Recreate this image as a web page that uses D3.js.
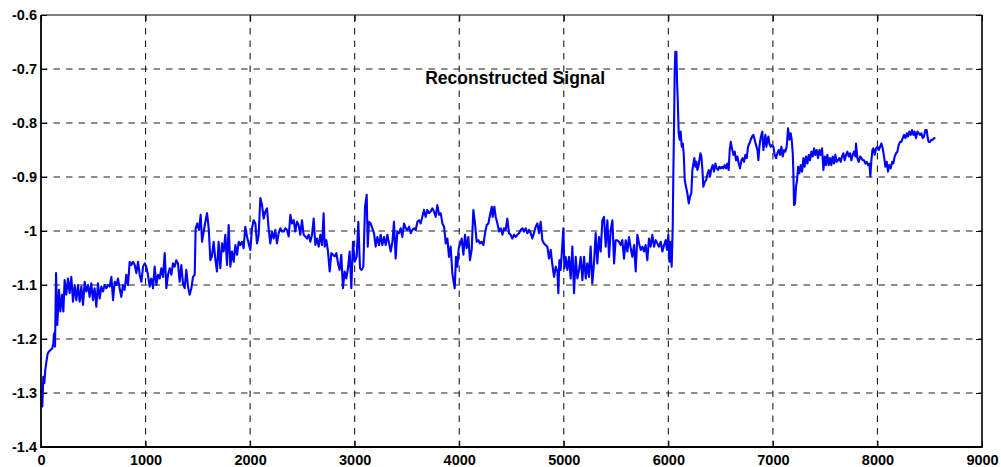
<!DOCTYPE html>
<html>
<head>
<meta charset="utf-8">
<script src="https://cdn.jsdelivr.net/npm/d3@7"></script>
<style>
  html, body { margin: 0; padding: 0; background: #fff; }
  svg { display: block; }
  text { font-family: "Liberation Sans", Arial, Helvetica, sans-serif; font-weight: bold; fill: #000; }
</style>
</head>
<body>
<svg id="chart" width="1001" height="467"></svg>
<script>
// Reconstructed signal: [sample index, amplitude] pairs, split by sample range.
const signal0to1000 = [
  [0,-1.294],[13,-1.325],[22,-1.270],[32,-1.282],[41,-1.257],[54,-1.239],[64,-1.227],[77,-1.223],
  [93,-1.220],[108,-1.217],[118,-1.208],[124,-1.190],[134,-1.214],[144,-1.078],[156,-1.174],
  [172,-1.109],[185,-1.149],[201,-1.118],[214,-1.149],[226,-1.091],[242,-1.118],[258,-1.088],
  [274,-1.115],[290,-1.085],[306,-1.131],[322,-1.100],[338,-1.128],[354,-1.100],[370,-1.131],
  [386,-1.103],[402,-1.137],[418,-1.094],[434,-1.112],[450,-1.100],[465,-1.122],[481,-1.097],
  [497,-1.128],[513,-1.106],[529,-1.140],[545,-1.097],[561,-1.125],[577,-1.103],[593,-1.112],
  [609,-1.100],[625,-1.106],[641,-1.100],[657,-1.103],[673,-1.085],[689,-1.128],[705,-1.094],
  [721,-1.100],[736,-1.088],[752,-1.106],[768,-1.122],[784,-1.100],[800,-1.109],[816,-1.081],
  [832,-1.100],[848,-1.057],[864,-1.063],[880,-1.057],[896,-1.063],[912,-1.078],[928,-1.057],
  [944,-1.081],[960,-1.094],[976,-1.066],[992,-1.060]
];

const signal1000to2000 = [
  [1007,-1.066],[1023,-1.081],[1039,-1.103],[1055,-1.088],[1071,-1.106],[1087,-1.066],[1103,-1.100],
  [1119,-1.081],[1135,-1.088],[1151,-1.069],[1167,-1.085],[1183,-1.041],[1199,-1.106],[1215,-1.081],
  [1231,-1.069],[1247,-1.081],[1262,-1.060],[1278,-1.066],[1294,-1.054],[1310,-1.060],[1326,-1.094],
  [1342,-1.063],[1358,-1.097],[1374,-1.106],[1390,-1.072],[1406,-1.103],[1422,-1.118],[1438,-1.106],
  [1454,-1.085],[1470,-1.081],[1479,-0.995],[1495,-0.986],[1511,-0.998],[1527,-0.970],[1540,-1.020],
  [1556,-1.001],[1572,-0.983],[1588,-0.967],[1604,-0.995],[1620,-1.054],[1635,-1.047],[1651,-1.020],
  [1667,-1.051],[1683,-1.075],[1699,-1.020],[1715,-1.069],[1731,-1.023],[1747,-1.038],[1763,-1.007],
  [1779,-1.063],[1795,-0.989],[1811,-1.066],[1827,-1.038],[1843,-1.057],[1859,-1.026],[1875,-1.044],
  [1891,-1.020],[1906,-1.026],[1922,-1.020],[1938,-1.032],[1954,-0.992],[1970,-1.010],[1986,-1.023]
];

const signal2000to3000 = [
  [2002,-1.035],[2018,-0.995],[2034,-0.980],[2050,-0.986],[2066,-1.023],[2082,-1.007],[2098,-0.939],
  [2114,-0.952],[2130,-0.977],[2146,-0.964],[2162,-0.958],[2177,-0.995],[2193,-1.023],[2209,-1.001],
  [2225,-1.014],[2241,-0.998],[2257,-1.023],[2273,-1.004],[2289,-0.995],[2305,-1.001],[2321,-1.001],
  [2337,-0.995],[2353,-0.998],[2369,-1.010],[2385,-0.970],[2401,-0.986],[2417,-0.980],[2432,-1.001],
  [2448,-0.983],[2464,-0.989],[2480,-1.007],[2496,-0.980],[2512,-1.007],[2528,-1.010],[2544,-1.014],
  [2560,-1.007],[2576,-1.020],[2592,-1.007],[2608,-0.977],[2624,-1.026],[2640,-1.014],[2656,-1.029],
  [2672,-1.007],[2688,-1.026],[2703,-0.967],[2713,-1.029],[2729,-1.017],[2745,-1.038],[2761,-1.075],
  [2777,-1.041],[2793,-1.044],[2809,-1.047],[2825,-1.041],[2841,-1.060],[2856,-1.072],[2872,-1.044],
  [2888,-1.106],[2904,-1.075],[2920,-1.088],[2936,-1.069],[2952,-1.038],[2968,-1.106],[2984,-1.020],
  [3000,-1.057]
];

const signal3000to4500 = [
  [3019,-1.048],[3035,-0.983],[3051,-1.069],[3067,-1.072],[3083,-1.066],[3099,-0.955],[3115,-0.933],
  [3125,-1.029],[3137,-0.983],[3153,-0.986],[3169,-0.995],[3185,-1.004],[3201,-1.029],[3217,-1.011],
  [3233,-1.026],[3249,-1.007],[3265,-1.026],[3281,-1.011],[3297,-1.026],[3313,-1.007],[3329,-1.023],
  [3345,-1.038],[3361,-1.020],[3376,-0.983],[3392,-1.051],[3408,-1.001],[3424,-1.004],[3440,-0.995],
  [3456,-1.011],[3472,-0.986],[3488,-0.995],[3504,-0.998],[3520,-0.992],[3536,-1.004],[3552,-0.998],
  [3568,-0.995],[3584,-0.998],[3600,-0.983],[3616,-0.980],[3631,-0.986],[3647,-0.974],[3663,-0.961],
  [3679,-0.974],[3695,-0.961],[3711,-0.967],[3727,-0.964],[3743,-0.958],[3759,-0.964],[3775,-0.974],
  [3791,-0.952],[3807,-0.970],[3823,-0.967],[3839,-0.986],[3855,-0.992],[3871,-1.023],[3887,-1.014],
  [3902,-1.048],[3918,-1.029],[3934,-1.078],[3944,-1.091],[3957,-1.106],[3969,-1.048],[3982,-1.066],
  [3995,-1.032],[4011,-1.023],[4024,-1.014],[4040,-1.044],[4055,-1.007],[4071,-1.032],[4087,-1.011],
  [4103,-1.054],[4119,-1.035],[4135,-0.961],[4151,-0.986],[4167,-1.020],[4183,-1.017],[4199,-1.023],
  [4215,-1.020],[4231,-1.026],[4247,-1.004],[4263,-0.989],[4279,-0.986],[4295,-0.970],[4311,-0.955],
  [4320,-0.974],[4336,-0.955],[4349,-0.974],[4365,-0.986],[4381,-1.001],[4397,-0.995],[4413,-1.007],
  [4428,-0.995],[4444,-0.998],[4460,-0.977],[4476,-1.004],[4492,-1.007]
];

const signal4500to6050 = [
  [4508,-1.014],[4524,-1.007],[4540,-1.011],[4556,-1.007],[4572,-1.004],[4588,-0.998],[4604,-0.995],
  [4620,-1.001],[4636,-0.995],[4652,-1.004],[4668,-0.998],[4684,-1.004],[4699,-1.014],[4715,-1.004],
  [4731,-0.992],[4747,-0.986],[4763,-1.004],[4779,-0.983],[4795,-1.017],[4811,-1.023],[4827,-1.026],
  [4843,-1.029],[4859,-1.051],[4875,-1.035],[4891,-1.063],[4907,-1.085],[4923,-1.066],[4939,-1.075],
  [4948,-1.115],[4958,-1.054],[4970,-1.072],[4983,-1.035],[4996,-0.995],[5006,-1.069],[5018,-1.048],
  [5034,-1.072],[5050,-1.048],[5066,-1.088],[5082,-1.029],[5098,-1.115],[5114,-1.048],[5130,-1.088],
  [5146,-1.072],[5162,-1.048],[5178,-1.091],[5194,-1.048],[5210,-1.088],[5225,-1.060],[5241,-1.085],
  [5257,-1.029],[5273,-1.097],[5289,-1.060],[5305,-1.004],[5321,-1.060],[5337,-1.011],[5353,-1.038],
  [5369,-0.980],[5385,-0.974],[5401,-1.029],[5417,-0.980],[5433,-1.048],[5449,-0.998],[5465,-0.980],
  [5481,-1.060],[5496,-1.017],[5512,-1.017],[5528,-1.020],[5544,-1.026],[5560,-1.017],[5576,-1.051],
  [5592,-1.017],[5608,-1.038],[5624,-1.011],[5640,-1.032],[5656,-1.048],[5672,-1.026],[5688,-1.075],
  [5704,-1.007],[5720,-1.023],[5736,-1.035],[5752,-1.029],[5767,-1.038],[5783,-1.026],[5799,-1.054],
  [5815,-1.014],[5831,-1.029],[5847,-1.007],[5863,-1.029],[5879,-1.017],[5895,-1.023],[5911,-1.029],
  [5927,-1.020],[5943,-1.038],[5959,-1.026],[5975,-1.017],[5987,-1.035],[6000,-1.007],[6010,-1.057],
  [6019,-1.020],[6032,-1.066]
];

const signal6050to7200 = [
  [6042,-0.992],[6048,-0.893],[6055,-0.801],[6061,-0.702],[6067,-0.668],[6077,-0.668],[6083,-0.720],
  [6090,-0.757],[6099,-0.819],[6109,-0.831],[6118,-0.816],[6128,-0.844],[6138,-0.838],[6147,-0.856],
  [6157,-0.906],[6169,-0.918],[6182,-0.930],[6195,-0.949],[6208,-0.936],[6220,-0.930],[6230,-0.887],
  [6240,-0.875],[6249,-0.865],[6259,-0.881],[6268,-0.872],[6278,-0.887],[6287,-0.881],[6297,-0.869],
  [6307,-0.856],[6316,-0.862],[6326,-0.887],[6335,-0.918],[6348,-0.909],[6361,-0.906],[6373,-0.896],
  [6386,-0.887],[6399,-0.899],[6412,-0.884],[6424,-0.878],[6437,-0.890],[6450,-0.875],[6463,-0.884],
  [6475,-0.887],[6488,-0.881],[6501,-0.884],[6514,-0.881],[6526,-0.884],[6539,-0.878],[6552,-0.884],
  [6565,-0.875],[6577,-0.887],[6587,-0.850],[6597,-0.835],[6609,-0.847],[6622,-0.859],[6635,-0.853],
  [6648,-0.869],[6660,-0.862],[6673,-0.875],[6686,-0.884],[6699,-0.869],[6711,-0.865],[6724,-0.872],
  [6737,-0.859],[6750,-0.865],[6762,-0.844],[6775,-0.838],[6788,-0.831],[6801,-0.825],[6813,-0.822],
  [6826,-0.831],[6839,-0.841],[6852,-0.850],[6861,-0.869],[6871,-0.844],[6880,-0.831],[6890,-0.822],
  [6899,-0.816],[6909,-0.850],[6919,-0.835],[6928,-0.822],[6938,-0.844],[6947,-0.831],[6957,-0.825],
  [6966,-0.838],[6979,-0.844],[6992,-0.841],[7005,-0.844],[7017,-0.859],[7030,-0.865],[7043,-0.856],
  [7056,-0.850],[7068,-0.859],[7081,-0.844],[7094,-0.862],[7107,-0.850],[7119,-0.853],[7132,-0.844],
  [7145,-0.810],[7158,-0.831],[7170,-0.819],[7180,-0.831],[7190,-0.856],[7196,-0.893]
];

const signal7200to8560 = [
  [7202,-0.952],[7212,-0.949],[7221,-0.918],[7231,-0.906],[7241,-0.881],[7253,-0.893],[7266,-0.878],
  [7279,-0.890],[7292,-0.865],[7304,-0.881],[7317,-0.862],[7330,-0.875],[7343,-0.859],[7355,-0.869],
  [7368,-0.853],[7381,-0.862],[7394,-0.847],[7406,-0.859],[7419,-0.850],[7432,-0.865],[7445,-0.850],
  [7457,-0.859],[7470,-0.847],[7483,-0.887],[7496,-0.862],[7508,-0.878],[7521,-0.859],[7534,-0.878],
  [7547,-0.865],[7559,-0.878],[7572,-0.862],[7585,-0.875],[7598,-0.859],[7610,-0.872],[7623,-0.869],
  [7636,-0.865],[7649,-0.872],[7661,-0.862],[7674,-0.856],[7687,-0.869],[7700,-0.859],[7712,-0.853],
  [7725,-0.862],[7738,-0.856],[7751,-0.869],[7763,-0.859],[7776,-0.853],[7789,-0.862],[7795,-0.838],
  [7808,-0.865],[7821,-0.872],[7834,-0.862],[7846,-0.865],[7859,-0.869],[7872,-0.869],[7885,-0.875],
  [7897,-0.872],[7910,-0.878],[7923,-0.875],[7932,-0.899],[7942,-0.869],[7952,-0.850],[7961,-0.847],
  [7974,-0.859],[7987,-0.847],[7999,-0.844],[8012,-0.850],[8025,-0.844],[8038,-0.838],[8050,-0.847],
  [8063,-0.862],[8076,-0.881],[8089,-0.872],[8101,-0.890],[8114,-0.878],[8127,-0.884],[8140,-0.872],
  [8152,-0.875],[8165,-0.862],[8178,-0.856],[8191,-0.853],[8203,-0.841],[8216,-0.835],[8229,-0.835],
  [8242,-0.828],[8254,-0.822],[8267,-0.828],[8280,-0.819],[8293,-0.825],[8305,-0.816],[8318,-0.822],
  [8331,-0.813],[8344,-0.822],[8356,-0.816],[8369,-0.828],[8382,-0.816],[8395,-0.819],[8407,-0.822],
  [8420,-0.819],[8433,-0.828],[8446,-0.825],[8458,-0.813],[8471,-0.813],[8481,-0.828],[8490,-0.835],
  [8503,-0.835],[8516,-0.831],[8529,-0.831],[8541,-0.828],[8554,-0.828]
];

// Axis ticks and their labels
const xTicks = [0, 1000, 2000, 3000, 4000, 5000, 6000, 7000, 8000, 9000];
const xTickLabels = ["0", "1000", "2000", "3000", "4000", "5000", "6000", "7000", "8000", "9000"];
const yTicks = [-1.4, -1.3, -1.2, -1.1, -1.0, -0.9, -0.8, -0.7, -0.6];
const yTickLabels = ["-1.4", "-1.3", "-1.2", "-1.1", "-1", "-0.9", "-0.8", "-0.7", "-0.6"];

const titleText = "Reconstructed Signal";

// ---- layout ----
const plot = { left: 41, right: 982, top: 15, bottom: 447 };
const svg = d3.select("#chart");

const x = d3.scaleLinear().domain([0, 9000]).range([plot.left, plot.right]);
const y = d3.scaleLinear().domain([-1.4, -0.6]).range([plot.bottom, plot.top]);

const signal = [].concat(signal0to1000, signal1000to2000, signal2000to3000,
  signal3000to4500, signal4500to6050, signal6050to7200, signal7200to8560);

// dashed grid
const grid = svg.append("g").attr("class", "grid")
  .attr("stroke", "#1e1e1e").attr("stroke-width", 1.1).attr("stroke-dasharray", "6.5,6");

grid.selectAll("line.v").data(xTicks.slice(1, -1)).join("line")
  .attr("class", "v")
  .attr("x1", d => x(d)).attr("x2", d => x(d))
  .attr("y1", plot.bottom).attr("y2", plot.top);

grid.selectAll("line.h").data(yTicks.slice(1, -1)).join("line")
  .attr("class", "h")
  .attr("x1", plot.left).attr("x2", plot.right)
  .attr("y1", d => y(d)).attr("y2", d => y(d));

// axes with inward ticks on all sides
const tickLen = 6;
const axes = svg.append("g");

const axBottom = axes.append("g").attr("transform", `translate(0,${plot.bottom})`)
  .call(d3.axisBottom(x).tickValues(xTicks).tickSize(-tickLen).tickPadding(10)
    .tickFormat((d, i) => xTickLabels[i]));
const axTop = axes.append("g").attr("transform", `translate(0,${plot.top})`)
  .call(d3.axisTop(x).tickValues(xTicks).tickSize(-tickLen).tickFormat(""));
const axLeft = axes.append("g").attr("transform", `translate(${plot.left},0)`)
  .call(d3.axisLeft(y).tickValues(yTicks).tickSize(-tickLen).tickPadding(4)
    .tickFormat((d, i) => yTickLabels[i]));
const axRight = axes.append("g").attr("transform", `translate(${plot.right},0)`)
  .call(d3.axisRight(y).tickValues(yTicks).tickSize(-tickLen).tickFormat(""));

axes.selectAll(".domain").remove();
axes.selectAll(".tick line").attr("stroke", "#000").attr("stroke-width", 1);
axes.selectAll(".tick text")
  .style("font-family", "'Liberation Sans', Arial, Helvetica, sans-serif")
  .style("font-weight", "bold").style("font-size", "14.5px").attr("fill", "#000");
axBottom.selectAll(".tick text").attr("dy", null).attr("y", 18);

// signal trace
const line = d3.line().x(d => x(d[0])).y(d => y(d[1]));
svg.append("path")
  .datum(signal)
  .attr("d", line)
  .attr("fill", "none")
  .attr("stroke", "#0000ff")
  .attr("stroke-width", 2.1)
  .attr("stroke-linejoin", "round");

// box frame
const frame = svg.append("g").attr("stroke", "#000").attr("fill", "none");
frame.append("line").attr("x1", plot.left).attr("x2", plot.right)
  .attr("y1", plot.top).attr("y2", plot.top).attr("stroke-width", 1.2);
frame.append("line").attr("x1", plot.left).attr("x2", plot.right)
  .attr("y1", plot.bottom).attr("y2", plot.bottom).attr("stroke-width", 1.8);
frame.append("line").attr("x1", plot.left).attr("x2", plot.left)
  .attr("y1", plot.top).attr("y2", plot.bottom + 0.9).attr("stroke-width", 1.8);
frame.append("line").attr("x1", plot.right).attr("x2", plot.right)
  .attr("y1", plot.top).attr("y2", plot.bottom + 0.9).attr("stroke-width", 1.6);

// in-plot title
svg.append("text")
  .attr("x", x(4535)).attr("y", 84)
  .attr("text-anchor", "middle")
  .style("font-size", "17.5px")
  .text(titleText);
</script>
</body>
</html>
